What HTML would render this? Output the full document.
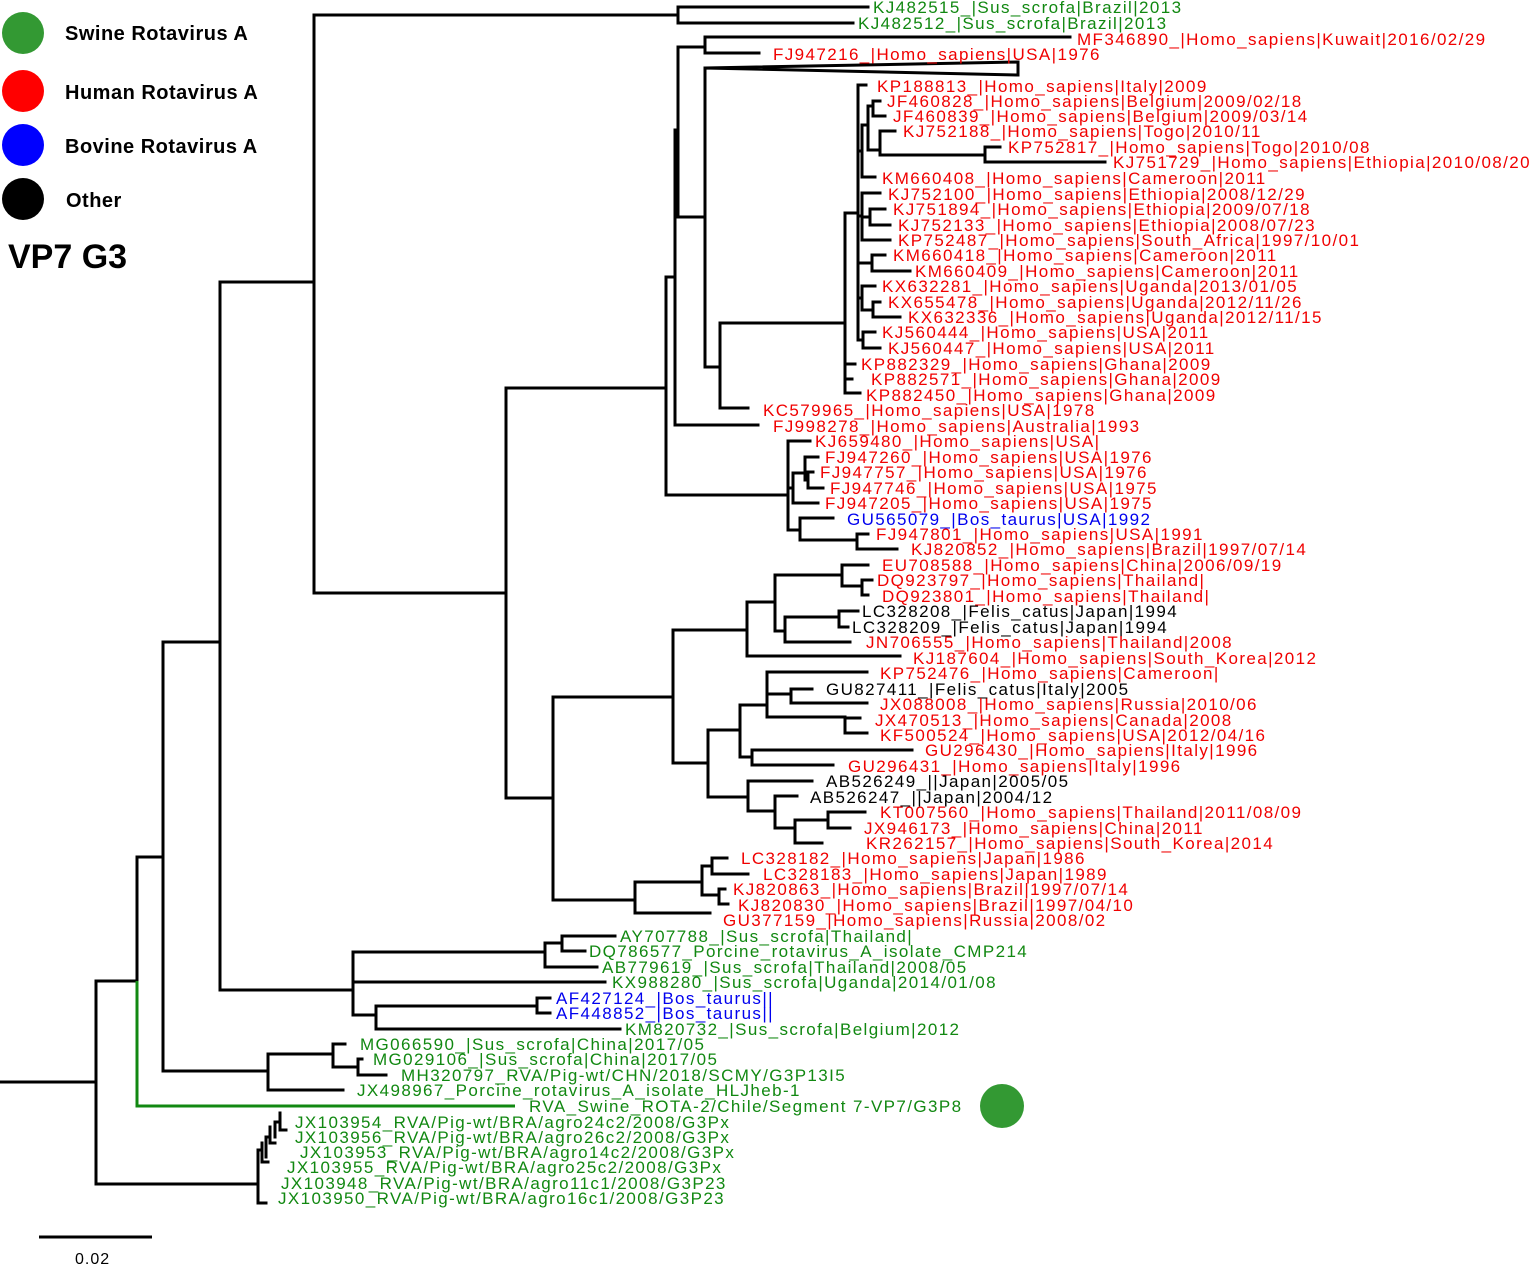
<!DOCTYPE html>
<html><head><meta charset="utf-8"><style>
html,body{margin:0;padding:0;background:#fff;}
svg{display:block;font-family:"Liberation Sans",sans-serif;}
.g{fill:#118811}.r{fill:#f00000}.b{fill:#0000ee}.k{fill:#000}
text.l{font-size:17px;letter-spacing:1.4px}
</style></head><body>
<svg width="1535" height="1265" viewBox="0 0 1535 1265" xmlns="http://www.w3.org/2000/svg">
<circle cx="23" cy="33" r="21" fill="#339933"/>
<circle cx="23" cy="91" r="21" fill="#ff0000"/>
<circle cx="23" cy="145" r="21" fill="#0000ff"/>
<circle cx="23" cy="199" r="21" fill="#000"/>
<g font-weight="bold" font-size="20" letter-spacing="0.5">
<text x="65" y="40">Swine Rotavirus A</text>
<text x="65" y="99">Human Rotavirus A</text>
<text x="65" y="153">Bovine Rotavirus A</text>
<text x="66" y="207">Other</text>
</g>
<text x="8" y="268" font-weight="bold" font-size="34">VP7 G3</text>
<circle cx="1002" cy="1106" r="22" fill="#339933"/>
<path d="M39 1237H152" stroke="#000" stroke-width="3"/>
<text x="75" y="1264" font-size="16" letter-spacing="1">0.02</text>

<g fill="none" stroke="#000" stroke-width="3" stroke-linecap="square">
<path d="M0 1082H96M96 981V1184M96 981H137M96 1184H258"/>
<path d="M137 857V981M137 857H163"/>
<path d="M163 642V1071M163 642H220M163 1071H268"/>
<path d="M220 282V990M220 282H314M220 990H353"/>
<path d="M268 1054V1090M268 1054H333M268 1090H343M333 1044V1067M333 1044H345M333 1067H358M358 1059V1075M358 1059H362M358 1075H386"/>
<path d="M258 1150V1203H266M258 1150H262M262 1143V1162M262 1162H268M266 1137V1157M266 1137H270M270 1127V1143M270 1143H275M275 1122V1137M275 1122H280M280 1113V1130M280 1130H286"/>
<path d="M353 952V1015M353 952H545M353 982H605M353 1015H376M545 943V967M545 943H562M545 967H597M562 936V951M562 936H615M562 951H585M376 1006V1029M376 1006H537M376 1029H620M537 998V1013M537 998H550M537 1013H550"/>
<path d="M314 15V593M314 15H678M314 593H506M678 7V23M678 7H868M678 23H853"/>
<path d="M506 388V798M506 388H666M506 798H553"/>
<path d="M666 277V495M666 277H675M666 495H788M675 130V425M675 130H678M675 425H758M678 47V217M678 47H705M678 217H705M705 37V53M705 37H1070M705 53H759M705 68V367M705 68L1018 62V75L705 68M705 367H720M720 323V408M720 323H845M720 408H748"/>
<path d="M845 213V393M845 213H858M845 364H855M845 379H852M845 393H860"/>
<path d="M858 85V340M858 85H866M858 151H862M858 216H862M858 263H872M858 298H862M858 340H863"/>
<path d="M862 125V177M862 125H868M862 177H875M868 106V150M868 106H873M868 150H880M873 101V116M873 101H880M873 116H885M880 131V155M880 131H895M880 155H985M985 147V162M985 147H1000M985 162H1105"/>
<path d="M862 193V240M862 193H880M862 217H870M862 240H890M870 209V225M870 209H885M870 225H890"/>
<path d="M872 255V271M872 255H885M872 271H910"/>
<path d="M862 286V310M862 286H875M862 310H873M873 302V317M873 302H880M873 317H900"/>
<path d="M863 332V348M863 332H875M863 348H880"/>
<path d="M788 441V530M788 441H810M788 488H793M788 530H800M793 473V503M793 473H805M793 503H818M805 457V480M805 457H818M805 480H808M808 472V488M808 472H813M808 488H823M800 518V540M800 518H833M800 540H857M857 534V549M857 534H868M857 549H897"/>
<path d="M553 697V900M553 697H673M553 900H635"/>
<path d="M673 630V763M673 630H747M673 763H708M747 602V656M747 602H775M747 656H900M775 575V631M775 575H842M775 631H785M842 565V586M842 565H868M842 586H862M862 580V595M862 580H872M862 595H868M785 617V642M785 617H839M785 642H850M839 611V627M839 611H858M839 627H848"/>
<path d="M708 730V797M708 730H740M708 797H748M740 705V757M740 705H767M740 757H752M767 672V717M767 672H867M767 694H791M767 717H845M791 689V703M791 689H812M791 703H867M845 718V733M845 718H860M845 733H867M752 750V765M752 750H912M752 765H833"/>
<path d="M748 781V811M748 781H812M748 811H775M775 796V828M775 796H797M775 828H795M795 820V843M795 820H828M795 843H822M828 812V828M828 812H865M828 828H850"/>
<path d="M635 882V913M635 882H702M635 913H710M702 866V895M702 866H712M702 895H719M712 858V874M712 858H727M712 874H748M719 889V904M719 889H725M719 904H728"/>
</g>
<path d="M137 981V1106H515" fill="none" stroke="#118811" stroke-width="3"/>

<g class="l">
<text class="l g" x="873" y="13">KJ482515_|Sus_scrofa|Brazil|2013</text>
<text class="l g" x="858" y="29">KJ482512_|Sus_scrofa|Brazil|2013</text>
<text class="l r" x="1077" y="45">MF346890_|Homo_sapiens|Kuwait|2016/02/29</text>
<text class="l r" x="773" y="60">FJ947216_|Homo_sapiens|USA|1976</text>
<text class="l r" x="877" y="92">KP188813_|Homo_sapiens|Italy|2009</text>
<text class="l r" x="887" y="107">JF460828_|Homo_sapiens|Belgium|2009/02/18</text>
<text class="l r" x="893" y="122">JF460839_|Homo_sapiens|Belgium|2009/03/14</text>
<text class="l r" x="903" y="137">KJ752188_|Homo_sapiens|Togo|2010/11</text>
<text class="l r" x="1008" y="153">KP752817_|Homo_sapiens|Togo|2010/08</text>
<text class="l r" x="1113" y="168">KJ751729_|Homo_sapiens|Ethiopia|2010/08/20</text>
<text class="l r" x="882" y="184">KM660408_|Homo_sapiens|Cameroon|2011</text>
<text class="l r" x="888" y="200">KJ752100_|Homo_sapiens|Ethiopia|2008/12/29</text>
<text class="l r" x="893" y="215">KJ751894_|Homo_sapiens|Ethiopia|2009/07/18</text>
<text class="l r" x="898" y="231">KJ752133_|Homo_sapiens|Ethiopia|2008/07/23</text>
<text class="l r" x="898" y="246">KP752487_|Homo_sapiens|South_Africa|1997/10/01</text>
<text class="l r" x="893" y="261">KM660418_|Homo_sapiens|Cameroon|2011</text>
<text class="l r" x="915" y="277">KM660409_|Homo_sapiens|Cameroon|2011</text>
<text class="l r" x="882" y="292">KX632281_|Homo_sapiens|Uganda|2013/01/05</text>
<text class="l r" x="888" y="308">KX655478_|Homo_sapiens|Uganda|2012/11/26</text>
<text class="l r" x="908" y="323">KX632336_|Homo_sapiens|Uganda|2012/11/15</text>
<text class="l r" x="882" y="338">KJ560444_|Homo_sapiens|USA|2011</text>
<text class="l r" x="888" y="354">KJ560447_|Homo_sapiens|USA|2011</text>
<text class="l r" x="861" y="370">KP882329_|Homo_sapiens|Ghana|2009</text>
<text class="l r" x="871" y="385">KP882571_|Homo_sapiens|Ghana|2009</text>
<text class="l r" x="866" y="401">KP882450_|Homo_sapiens|Ghana|2009</text>
<text class="l r" x="763" y="416">KC579965_|Homo_sapiens|USA|1978</text>
<text class="l r" x="773" y="432">FJ998278_|Homo_sapiens|Australia|1993</text>
<text class="l r" x="815" y="447">KJ659480_|Homo_sapiens|USA|</text>
<text class="l r" x="825" y="463">FJ947260_|Homo_sapiens|USA|1976</text>
<text class="l r" x="820" y="478">FJ947757_|Homo_sapiens|USA|1976</text>
<text class="l r" x="830" y="494">FJ947746_|Homo_sapiens|USA|1975</text>
<text class="l r" x="825" y="509">FJ947205_|Homo_sapiens|USA|1975</text>
<text class="l b" x="847" y="525">GU565079_|Bos_taurus|USA|1992</text>
<text class="l r" x="876" y="540">FJ947801_|Homo_sapiens|USA|1991</text>
<text class="l r" x="911" y="555">KJ820852_|Homo_sapiens|Brazil|1997/07/14</text>
<text class="l r" x="882" y="571">EU708588_|Homo_sapiens|China|2006/09/19</text>
<text class="l r" x="877" y="586">DQ923797_|Homo_sapiens|Thailand|</text>
<text class="l r" x="882" y="602">DQ923801_|Homo_sapiens|Thailand|</text>
<text class="l k" x="862" y="617">LC328208_|Felis_catus|Japan|1994</text>
<text class="l k" x="852" y="633">LC328209_|Felis_catus|Japan|1994</text>
<text class="l r" x="866" y="648">JN706555_|Homo_sapiens|Thailand|2008</text>
<text class="l r" x="913" y="664">KJ187604_|Homo_sapiens|South_Korea|2012</text>
<text class="l r" x="880" y="679">KP752476_|Homo_sapiens|Cameroon|</text>
<text class="l k" x="826" y="695">GU827411_|Felis_catus|Italy|2005</text>
<text class="l r" x="880" y="710">JX088008_|Homo_sapiens|Russia|2010/06</text>
<text class="l r" x="875" y="726">JX470513_|Homo_sapiens|Canada|2008</text>
<text class="l r" x="880" y="741">KF500524_|Homo_sapiens|USA|2012/04/16</text>
<text class="l r" x="925" y="756">GU296430_|Homo_sapiens|Italy|1996</text>
<text class="l r" x="848" y="772">GU296431_|Homo_sapiens|Italy|1996</text>
<text class="l k" x="826" y="787">AB526249_||Japan|2005/05</text>
<text class="l k" x="810" y="803">AB526247_||Japan|2004/12</text>
<text class="l r" x="880" y="818">KT007560_|Homo_sapiens|Thailand|2011/08/09</text>
<text class="l r" x="864" y="834">JX946173_|Homo_sapiens|China|2011</text>
<text class="l r" x="866" y="849">KR262157_|Homo_sapiens|South_Korea|2014</text>
<text class="l r" x="741" y="864">LC328182_|Homo_sapiens|Japan|1986</text>
<text class="l r" x="763" y="880">LC328183_|Homo_sapiens|Japan|1989</text>
<text class="l r" x="733" y="895">KJ820863_|Homo_sapiens|Brazil|1997/07/14</text>
<text class="l r" x="738" y="911">KJ820830_|Homo_sapiens|Brazil|1997/04/10</text>
<text class="l r" x="723" y="926">GU377159_|Homo_sapiens|Russia|2008/02</text>
<text class="l g" x="620" y="942">AY707788_|Sus_scrofa|Thailand|</text>
<text class="l g" x="589" y="957">DQ786577_Porcine_rotavirus_A_isolate_CMP214</text>
<text class="l g" x="602" y="973">AB779619_|Sus_scrofa|Thailand|2008/05</text>
<text class="l g" x="612" y="988">KX988280_|Sus_scrofa|Uganda|2014/01/08</text>
<text class="l b" x="556" y="1004">AF427124_|Bos_taurus||</text>
<text class="l b" x="556" y="1019">AF448852_|Bos_taurus||</text>
<text class="l g" x="625" y="1035">KM820732_|Sus_scrofa|Belgium|2012</text>
<text class="l g" x="360" y="1050">MG066590_|Sus_scrofa|China|2017/05</text>
<text class="l g" x="373" y="1065">MG029106_|Sus_scrofa|China|2017/05</text>
<text class="l g" x="401" y="1081">MH320797_RVA/Pig-wt/CHN/2018/SCMY/G3P13I5</text>
<text class="l g" x="357" y="1096">JX498967_Porcine_rotavirus_A_isolate_HLJheb-1</text>
<text class="l g" x="529" y="1112">RVA_Swine_ROTA-2/Chile/Segment 7-VP7/G3P8</text>
<text class="l g" x="295" y="1128">JX103954_RVA/Pig-wt/BRA/agro24c2/2008/G3Px</text>
<text class="l g" x="295" y="1143">JX103956_RVA/Pig-wt/BRA/agro26c2/2008/G3Px</text>
<text class="l g" x="300" y="1158">JX103953_RVA/Pig-wt/BRA/agro14c2/2008/G3Px</text>
<text class="l g" x="287" y="1173">JX103955_RVA/Pig-wt/BRA/agro25c2/2008/G3Px</text>
<text class="l g" x="281" y="1189">JX103948_RVA/Pig-wt/BRA/agro11c1/2008/G3P23</text>
<text class="l g" x="278" y="1204">JX103950_RVA/Pig-wt/BRA/agro16c1/2008/G3P23</text>
</g>
</svg>
</body></html>
